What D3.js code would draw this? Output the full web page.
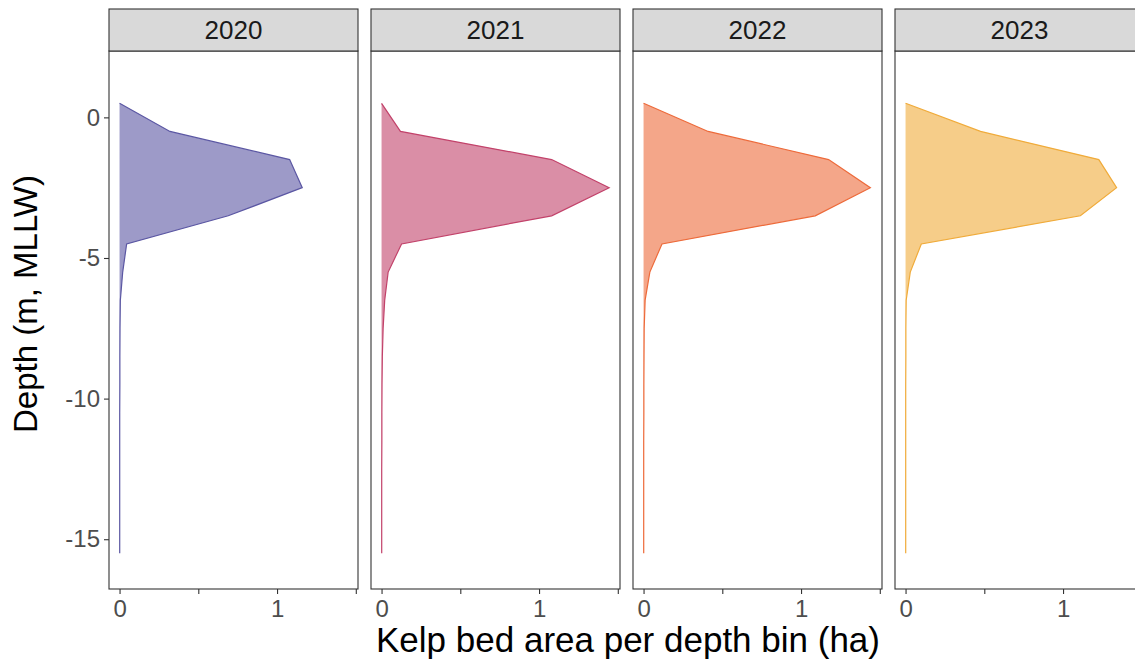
<!DOCTYPE html>
<html>
<head>
<meta charset="utf-8">
<script src="https://cdn.jsdelivr.net/npm/d3@7"></script>
<style>
  html, body { margin: 0; padding: 0; background: #fff; }
  svg { display: block; font-family: "Liberation Sans", Arial, sans-serif; }
</style>
</head>
<body>
<svg id="chart" width="1135" height="661"></svg>
<script>
// Depth bins (m, MLLW), shallowest first
const depths = [0.5, -0.5, -1.5, -2.5, -3.5, -4.5, -5.5, -6.5, -7.5, -8.5, -9.5, -10.5, -11.5, -12.5, -13.5, -14.5, -15.5];

// Kelp bed area (ha) per depth bin, one array per survey year
const years = ["2020", "2021", "2022", "2023"];
const area2020 = [0, 0.32, 1.08, 1.16, 0.69, 0.045, 0.02, 0.005, 0.003, 0.002, 0.002, 0.001, 0.001, 0.001, 0.001, 0.001, 0.001];
const area2021 = [0, 0.12, 1.08, 1.445, 1.08, 0.127, 0.042, 0.02, 0.01, 0.005, 0.003, 0.002, 0.002, 0.001, 0.001, 0.001, 0.001];
const area2022 = [0, 0.41, 1.175, 1.44, 1.09, 0.117, 0.04, 0.01, 0.004, 0.003, 0.002, 0.002, 0.001, 0.001, 0.001, 0.001, 0.001];
const area2023 = [0, 0.476, 1.227, 1.34, 1.11, 0.10, 0.03, 0.004, 0.002, 0.002, 0.001, 0.001, 0.001, 0.001, 0.001, 0.001, 0.001];
const areas = [area2020, area2021, area2022, area2023];
const yearColors = ["#5b57a3", "#c2426a", "#ed6a3a", "#f0ab3a"];

// Axis ticks
const xTicks = [0, 0.5, 1, 1.5];
const yTicks = [0, -5, -10, -15];

// Layout
const panelW = 249, panelStep = 262, firstLeft = 109;
const stripTop = 9, panelTop = 51, panelBottom = 589;

const svg = d3.select("#chart");

const x = d3.scaleLinear().domain([-0.067, 1.514]).range([0, panelW]);
const y = d3.scaleLinear().domain([2.36, -16.77]).range([panelTop, panelBottom]);

years.forEach((yr, i) => {
  const left = firstLeft + i * panelStep;
  const g = svg.append("g").attr("transform", `translate(${left},0)`);
  const rows = depths.map((d, k) => ({ depth: d, area: areas[i][k] }));

  // panel background
  g.append("rect").attr("x", 0).attr("y", panelTop)
    .attr("width", panelW).attr("height", panelBottom - panelTop)
    .attr("fill", "#fff");

  // filled profile
  const area = d3.area()
    .y(d => y(d.depth))
    .x0(x(0))
    .x1(d => x(d.area));
  g.append("path").datum(rows)
    .attr("d", area)
    .attr("fill", yearColors[i])
    .attr("fill-opacity", 0.6);

  // profile outline
  const line = d3.line().y(d => y(d.depth)).x(d => x(d.area));
  g.append("path").datum(rows)
    .attr("d", line)
    .attr("fill", "none")
    .attr("stroke", yearColors[i])
    .attr("stroke-width", 1.2);

  // panel border
  g.append("rect").attr("x", 0).attr("y", panelTop)
    .attr("width", panelW).attr("height", panelBottom - panelTop)
    .attr("fill", "none").attr("stroke", "#333").attr("stroke-width", 1.1);

  // facet strip
  g.append("rect").attr("x", 0).attr("y", stripTop)
    .attr("width", panelW).attr("height", panelTop - stripTop)
    .attr("fill", "#d9d9d9").attr("stroke", "#333").attr("stroke-width", 1.1);
  g.append("text")
    .attr("x", panelW / 2).attr("y", (stripTop + panelTop) / 2)
    .attr("dy", "0.36em")
    .attr("text-anchor", "middle")
    .attr("font-size", 26)
    .attr("fill", "#1a1a1a")
    .text(yr);

  // x axis
  const xAxis = d3.axisBottom(x)
    .tickValues(xTicks)
    .tickSize(5)
    .tickPadding(6)
    .tickFormat(v => Number.isInteger(v) ? String(v) : "");
  const xa = g.append("g").attr("transform", `translate(0,${panelBottom})`).call(xAxis);
  xa.select(".domain").remove();
  xa.selectAll(".tick line").attr("stroke", "#333").attr("stroke-width", 1.1);
  xa.selectAll(".tick text").attr("fill", "#4d4d4d").attr("font-size", 24)
    .attr("font-family", "Liberation Sans, Arial, sans-serif");

  // y axis on the first panel only
  if (i === 0) {
    const yAxis = d3.axisLeft(y).tickValues(yTicks).tickSize(5).tickPadding(4)
      .tickFormat(v => String(v));
    const ya = g.append("g").call(yAxis);
    ya.select(".domain").remove();
    ya.selectAll(".tick line").attr("stroke", "#333").attr("stroke-width", 1.1);
    ya.selectAll(".tick text").attr("fill", "#4d4d4d").attr("font-size", 24)
      .attr("font-family", "Liberation Sans, Arial, sans-serif");
  }
});

// axis titles
svg.append("text")
  .attr("x", 628).attr("y", 652)
  .attr("text-anchor", "middle")
  .attr("font-size", 35)
  .attr("fill", "#000")
  .text("Kelp bed area per depth bin (ha)");

svg.append("text")
  .attr("transform", "translate(37,304) rotate(-90)")
  .attr("text-anchor", "middle")
  .attr("font-size", 33)
  .attr("fill", "#000")
  .text("Depth (m, MLLW)");
</script>
</body>
</html>
